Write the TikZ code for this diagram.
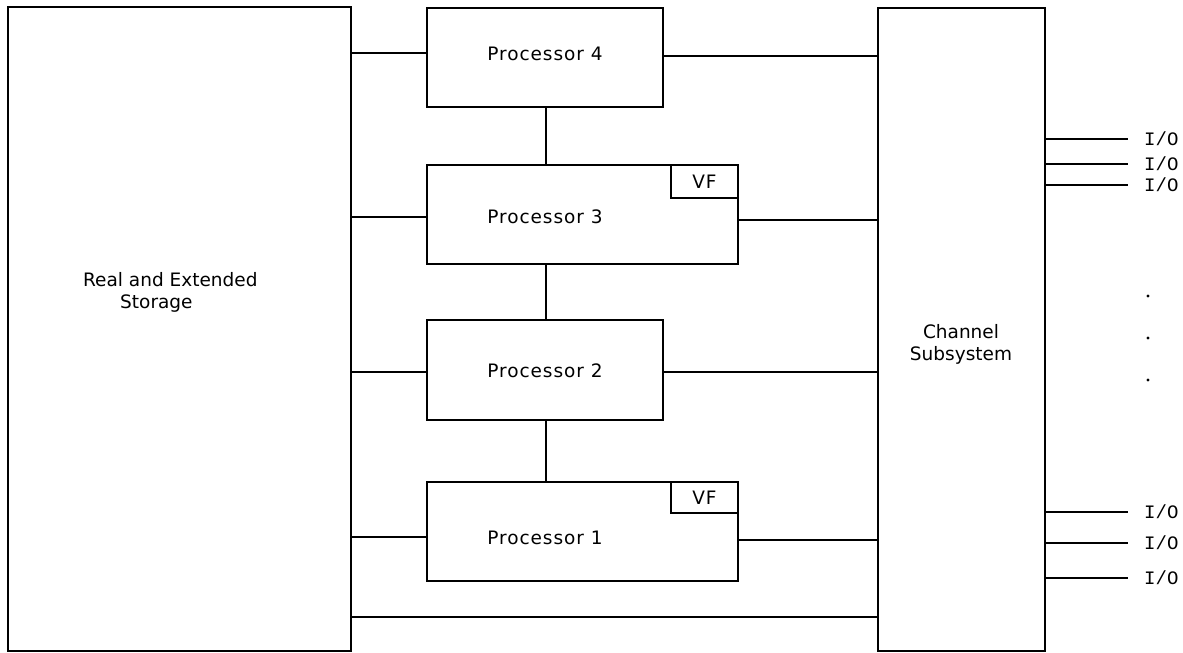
\documentclass[tikz,border=0pt]{standalone}
\usepackage{fontspec}
\setmainfont{DejaVu Sans}
\newfontfamily\widefont[LetterSpace=5]{DejaVu Sans}
\newfontfamily\iofont{Liberation Mono}
\begin{document}
\begin{tikzpicture}[x=1pt,y=-1pt,
  unit/.style={draw, line width=1.3pt, rectangle, anchor=north west, inner sep=0pt, outer sep=0pt},
  wire/.style={line width=1.3pt},
  lbl/.style={font=\fontsize{18.5}{22}\selectfont, inner sep=0pt},
  plbl/.style={font=\widefont\fontsize{18.5}{22}\selectfont, inner sep=0pt},
  iolbl/.style={font=\iofont\fontsize{19}{22}\selectfont, inner sep=0pt, anchor=west},
  dotmark/.style={circle, fill, inner sep=0pt, minimum size=3.4pt}]
\useasboundingbox (0,0) rectangle (1183,653);

% main units
\node[unit, minimum width=343pt, minimum height=644pt] (st) at (8,7) {};
\node[unit, minimum width=167pt, minimum height=643pt] (ch) at (878,8) {};
\node[unit, minimum width=236pt, minimum height=99pt] (p4) at (427,8) {};
\node[unit, minimum width=311pt, minimum height=99pt] (p3) at (427,165) {};
\node[unit, minimum width=236pt, minimum height=100pt] (p2) at (427,320) {};
\node[unit, minimum width=311pt, minimum height=99pt] (p1) at (427,482) {};

% vector facility boxes
\node[unit, minimum width=67pt, minimum height=33pt, anchor=north east] (vf3) at (p3.north east) {};
\node[unit, minimum width=67pt, minimum height=31pt, anchor=north east] (vf1) at (p1.north east) {};

% labels
\node[lbl, align=left, anchor=north west] (stl) at (83,272) {Real and Extended\\\hspace{37pt}Storage};
\node[lbl, align=center] (chl) at (961,344) {Channel\\Subsystem};
\node[plbl] (p4l) at (545,54) {Processor 4};
\node[plbl] (p3l) at (545,217) {Processor 3};
\node[plbl] (p2l) at (545,371) {Processor 2};
\node[plbl] (p1l) at (545,538) {Processor 1};
\node[plbl] (vf3l) at (vf3.center) {VF};
\node[plbl] (vf1l) at (vf1.center) {VF};

% storage to processors
\draw[wire] (st.east |- 0,53) -- (p4.west |- 0,53);
\draw[wire] (st.east |- 0,217) -- (p3.west |- 0,217);
\draw[wire] (st.east |- 0,372) -- (p2.west |- 0,372);
\draw[wire] (st.east |- 0,537) -- (p1.west |- 0,537);

% processors to channel subsystem
\draw[wire] (p4.east |- 0,56) -- (ch.west |- 0,56);
\draw[wire] (p3.east |- 0,220) -- (ch.west |- 0,220);
\draw[wire] (p2.east |- 0,372) -- (ch.west |- 0,372);
\draw[wire] (p1.east |- 0,540) -- (ch.west |- 0,540);

% storage to channel subsystem
\draw[wire] (st.east |- 0,617) -- (ch.west |- 0,617);

% processor chain
\draw[wire] (p4.south -| 546,0) -- (p3.north -| 546,0);
\draw[wire] (p3.south -| 546,0) -- (p2.north -| 546,0);
\draw[wire] (p2.south -| 546,0) -- (p1.north -| 546,0);

% channel paths
\foreach \yy/\nm in {139/a,164/b,185/c,512/d,543/e,578/f}{
  \coordinate (io\nm) at (1128,\yy);
  \draw[wire] (ch.east |- io\nm) -- (io\nm);
  \node[iolbl] (iol\nm) at (1144,\yy) {I/O};
}
\node[dotmark] (d1) at (1148,296) {};
\node[dotmark] (d2) at (1148,338) {};
\node[dotmark] (d3) at (1148,380) {};
\end{tikzpicture}
\end{document}
